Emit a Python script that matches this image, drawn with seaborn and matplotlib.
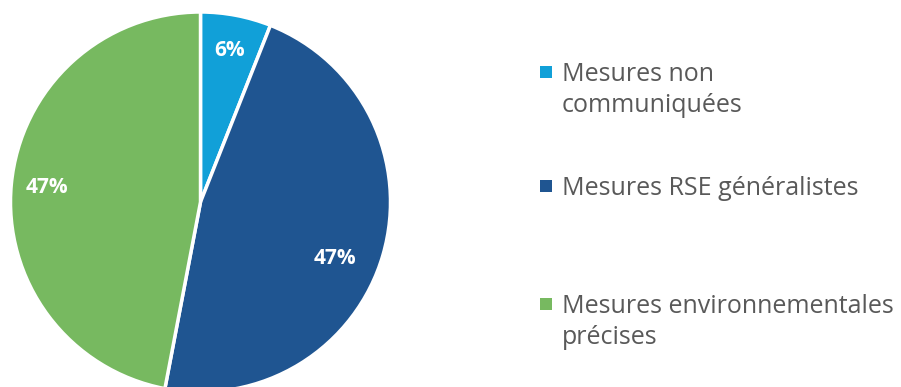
import matplotlib
matplotlib.use("Agg")
import matplotlib.pyplot as plt
from matplotlib.patches import Rectangle
import seaborn as sns

# Share of companies by type of measures communicated
categories = ["Mesures non\ncommuniquées",
              "Mesures RSE généralistes",
              "Mesures environnementales\nprécises"]
shares = [6, 47, 47]
colors = ["#11A0D8", "#1F5591", "#77B960"]

sns.set_theme(style="white")
plt.rcParams["font.family"] = ["Open Sans", "DejaVu Sans"]

W, H = 901, 387
fig = plt.figure(figsize=(W / 100, H / 100), dpi=100)
fig.patch.set_facecolor("white")

# Pie area: centre at (200, 202) px, radius 190 px
cx, cy, r = 200.5, 202, 190
ax = fig.add_axes([(cx - r) / W, (H - cy - r) / H, 2 * r / W, 2 * r / H])
wedges, texts, autotexts = ax.pie(
    shares, colors=colors, startangle=90, counterclock=False,
    autopct=lambda p: f"{p:.0f}%", pctdistance=0.81,
    wedgeprops=dict(edgecolor="white", linewidth=2.5),
    textprops=dict(color="white", fontsize=15, fontweight="bold"),
)
ax.set_xlim(-1, 1)
ax.set_ylim(-1, 1)
ax.set_aspect("equal")
ax.axis("off")
# the middle slice label sits lower inside its wedge
autotexts[1].set_position((0.71, -0.295))

# Legend drawn beside the pie
text_color = "#595959"
first_baselines = [81, 195, 313]
line_gap = 31
for label, col, base in zip(categories, colors, first_baselines):
    sq = 12.5
    cap_mid = base - 9
    fig.add_artist(Rectangle((539.5 / W, 1 - (cap_mid + sq / 2) / H), sq / W, sq / H,
                             transform=fig.transFigure, facecolor=col,
                             edgecolor="none"))
    for i, line in enumerate(label.split("\n")):
        fig.text(562 / W, 1 - (base + i * line_gap) / H, line,
                 fontsize=18, color=text_color, va="baseline", ha="left")

fig.savefig("out.png", dpi=100)
